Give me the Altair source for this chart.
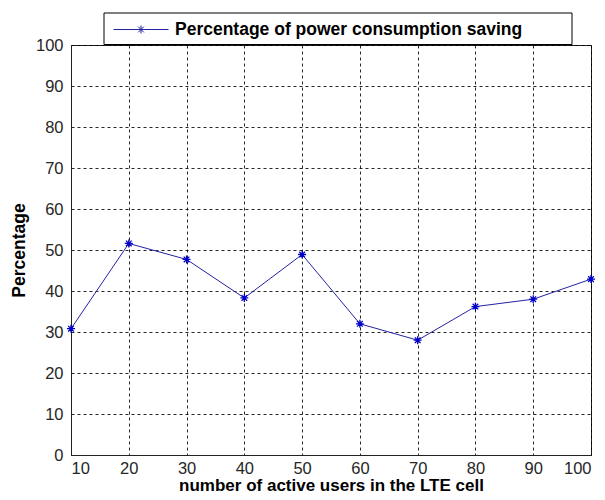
import altair as alt
import pandas as pd

users = [10, 20, 30, 40, 50, 60, 70, 80, 90, 100]
saving = [30.8, 51.6, 47.7, 38.3, 48.9, 32.0, 28.0, 36.2, 38.0, 42.9]
series_name = "Percentage of power consumption saving"
x_ticks = [10, 20, 30, 40, 50, 60, 70, 80, 90, 100]
y_ticks = [0, 10, 20, 30, 40, 50, 60, 70, 80, 90, 100]

df = pd.DataFrame({"users": users, "saving": saving, "series": [series_name] * len(users)})

FONT = "Liberation Sans"
LINE_COLOR = "#2323a3"
STAR_COLOR = "#0000c8"

STAR = "M-1,0L1,0M0,-1L0,1M-0.707,-0.707L0.707,0.707M-0.707,0.707L0.707,-0.707"
LEG_SYM = ("M-1,0L1,0M0,-0.145L0,0.145M-0.145,0L0.145,0"
           "M-0.103,-0.103L0.103,0.103M-0.103,0.103L0.103,-0.103")

x_enc = alt.X(
    "users:Q",
    scale=alt.Scale(domain=[10, 100], nice=False, zero=False),
    axis=alt.Axis(
        values=x_ticks, title="number of active users in the LTE cell",
        grid=True, ticks=False, tickSize=0, labelPadding=5,
        titleY=35, titleBaseline="alphabetic", titleFontSize=17,
    ),
)
y_enc = alt.Y(
    "saving:Q",
    scale=alt.Scale(domain=[0, 100], nice=False),
    axis=alt.Axis(
        values=y_ticks, title="Percentage",
        grid=True, ticks=False, tickSize=0, labelPadding=8,
        titleAngle=270, titleX=-46.5, titleY=205,
        titleBaseline="alphabetic", titleAlign="center",
    ),
)

box = alt.Chart(alt.Data(values=[{"k": 0}])).mark_rect(
    fill="white", stroke="black", strokeWidth=1
).encode(
    x=alt.value(33), x2=alt.value(501), y=alt.value(-32), y2=alt.value(-0.5)
)

line = alt.Chart(df).mark_line(strokeWidth=1).encode(
    x=x_enc,
    y=y_enc,
    color=alt.Color(
        "series:N",
        scale=alt.Scale(range=[LINE_COLOR]),
        legend=alt.Legend(
            orient="none", legendX=42, legendY=-43.5, title=None,
            symbolType=LEG_SYM, symbolSize=3025, symbolStrokeWidth=1,
            symbolStrokeColor=LINE_COLOR,
            labelFont=FONT, labelFontSize=17.5, labelFontWeight="bold",
            labelColor="black", labelOffset=6, padding=0, labelLimit=600,
        ),
    ),
)

stars = alt.Chart(df).mark_point(
    shape=STAR, size=64, filled=False, color=STAR_COLOR, strokeWidth=1.3, opacity=1
).encode(x="users:Q", y="saving:Q")

chart = alt.layer(box, line, stars).properties(
    width=520, height=410,
    padding={"left": 63, "top": 37, "right": 6, "bottom": 37},
    autosize=alt.AutoSizeParams(type="none"),
).configure_view(
    stroke="#222", strokeWidth=1
).configure_axis(
    labelFont=FONT, labelFontSize=16.5, labelColor="#262626",
    titleFont=FONT, titleFontSize=17.5, titleFontWeight="bold", titleColor="black",
    domainColor="#222", domainWidth=1,
    gridColor="black", gridOpacity=0.85, gridDash=[3, 3], gridWidth=1,
)

chart.save("out.html", embed_options={"renderer": "svg", "actions": False})
